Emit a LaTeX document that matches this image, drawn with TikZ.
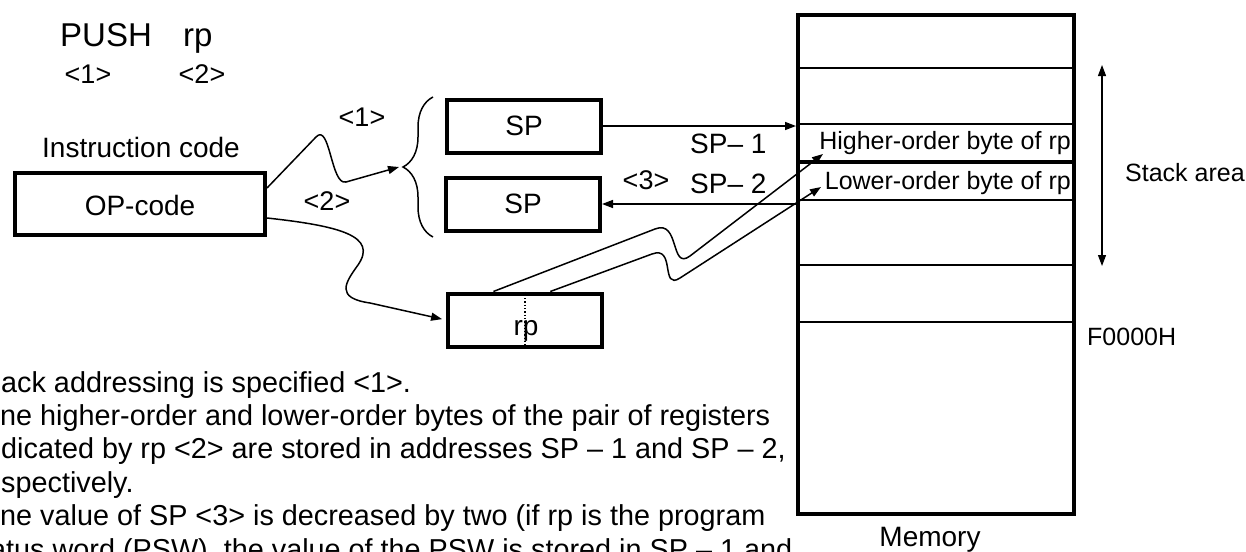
\documentclass[tikz,border=0pt]{standalone}
\usepackage{fontspec}
\setmainfont{Liberation Sans}
\usetikzlibrary{positioning, arrows.meta, calc, decorations.pathreplacing}

\begin{document}
\begin{tikzpicture}[
  x=1pt, y=-1pt,
  font=\fontsize{28}{34}\selectfont,
  reg/.style={draw, line width=4pt, minimum width=154pt, minimum height=53pt,
              inner sep=0pt},
  flow/.style={-{Triangle[length=11pt, width=8pt]}, line width=1.5pt},
  cell/.style={line width=1.8pt},
  lbl/.style={inner sep=0pt},
  small/.style={font=\fontsize{25}{30}\selectfont},
  tag/.style={inner sep=0pt, font=\fontsize{27}{32}\selectfont},
  note/.style={inner sep=0pt, anchor=base west, font=\fontsize{28.8}{34}\selectfont},
]
\useasboundingbox (0,0) rectangle (1246,551);
\clip (0,0) rectangle (1246,551);

% Instruction
\node[lbl, anchor=base west, font=\fontsize{33}{40}\selectfont] (push) at (60,47) {PUSH};
\node[lbl, anchor=base west, font=\fontsize{33}{40}\selectfont] (rparg) at (183,47) {rp};
\node[tag, anchor=base] (n1) at (88,83) {<1>};
\node[tag, anchor=base] (n2) at (202,83) {<2>};

\node[lbl, anchor=base] (icode) at (141,157) {Instruction code};
\node[reg, minimum width=250pt, minimum height=62pt] (op) at (140,204) {};
\node[lbl, anchor=base] (optxt) at (140,215) {OP-code};

% Registers
\node[reg] (sp1) at (524,126) {SP};
\node[reg] (sp2) at (523,204) {SP};
\node[reg] (rp) at (525,320) {};
\draw[dotted, line width=1.3pt] (rp.north) -- (rp.south);
\node[lbl, anchor=base] (rptxt) at (526,335) {rp};
\draw[line width=1.5pt, decorate, decoration={brace, amplitude=30pt}]
  (433,237) -- (433,97);
\coordinate (bracetip) at (399,167);

% Memory
\node[draw, line width=4pt, minimum width=276pt, minimum height=499pt,
      inner sep=0pt] (mem) at (936,264.5) {};
\foreach \yy in {68,124,200,265,322}
  \draw[cell] (798,\yy) -- (1074,\yy);
\draw[line width=3.5pt] (798,162) -- (1074,162);
\node[lbl, small, anchor=base east] (hibyte) at (1071,149) {Higher-order byte of rp};
\node[lbl, small, anchor=base east] (lobyte) at (1071,189) {Lower-order byte of rp};
\coordinate (hiin) at (823,154);
\coordinate (loin) at (821,187);
\node[lbl, anchor=base] (memtxt) at (930,546) {Memory};
\node[lbl, small, anchor=base west] (f0000) at (1087,345) {F0000H};

% Stack area
\coordinate (stacktop) at (1102,65);
\coordinate (stackbot) at (1102,266);
\draw[{Triangle[length=11pt, width=8pt]}-{Triangle[length=11pt, width=8pt]},
      line width=1.2pt] (stacktop) -- (stackbot);
\node[lbl, small, anchor=base west] (stack) at (1125,181) {Stack area};

% Connectors
\coordinate (op1) at ($(op.east)+(0,-16)$);
\coordinate (op2) at ($(op.east)+(0,14)$);
\draw[flow] (op1) -- (316,137) .. controls (330,122) and (331,186) .. (346,182)
  -- (bracetip);
\draw[flow, shorten >=4pt] (op2) .. controls (340,226) and (378,236) .. (358,265)
  .. controls (345,283) and (335,298) .. (370,303) -- (rp.west);
\draw[flow] (sp1.east) -- (sp1.east -| mem.west);
\draw[flow] (sp2.east -| mem.west) -- (sp2.east);
\coordinate (rpa) at ($(rp.north west)!0.3!(rp.north east)$);
\coordinate (rpb) at ($(rp.north west)!0.66!(rp.north east)$);
\draw[flow] (rpa) -- (655,229) .. controls (680,219) and (670,271) .. (690,256)
  -- (hiin);
\draw[flow] (rpb) -- (652,254) .. controls (676,245) and (660,291) .. (680,278)
  -- (loin);

\node[tag, anchor=base] (c1) at (362,126) {<1>};
\node[tag, anchor=base] (c2) at (327,210) {<2>};
\node[tag, anchor=base] (c3) at (646,189) {<3>};
\node[lbl, anchor=base west] (spm1) at (690,153) {SP– 1};
\node[lbl, anchor=base west] (spm2) at (690,193) {SP– 2};

% Notes
\node[note] (t1) at (1,392) {ack addressing is specified <1>.};
\node[note] (t2) at (0,425) {ne higher-order and lower-order bytes of the pair of registers};
\node[note] (t3) at (1,458) {dicated by rp <2> are stored in addresses SP – 1 and SP – 2,};
\node[note] (t4) at (1,492) {spectively.};
\node[note] (t5) at (0,525) {ne value of SP <3> is decreased by two (if rp is the program};
\node[note] (t6) at (-10,559) {atus word (PSW), the value of the PSW is stored in SP – 1 and};

\end{tikzpicture}
\end{document}
